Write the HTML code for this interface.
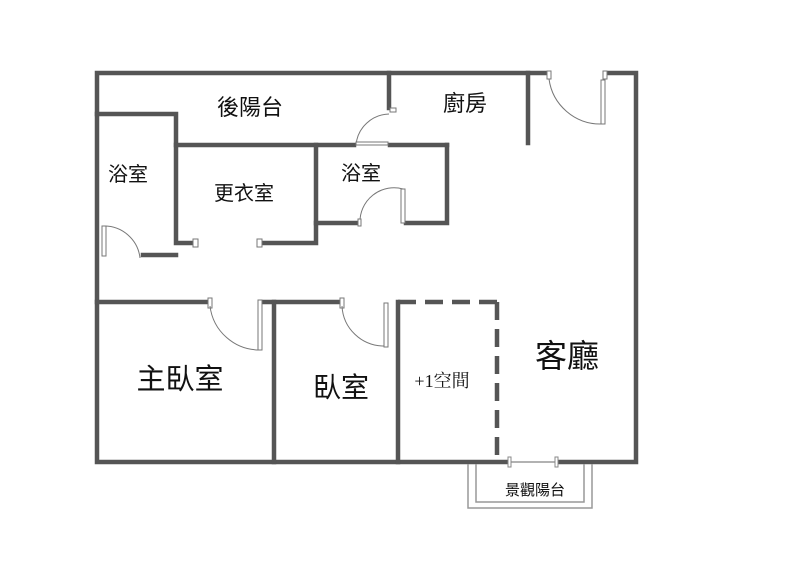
<!DOCTYPE html>
<html><head><meta charset="utf-8"><style>
body{margin:0;background:#fff;width:800px;height:577px;overflow:hidden}
text{font-family:"Liberation Sans","Noto Sans CJK TC",sans-serif;fill:#111;text-anchor:middle}
</style></head><body>
<svg width="800" height="577" viewBox="0 0 800 577" xmlns="http://www.w3.org/2000/svg">
<g stroke="#555" stroke-width="4.5" fill="none" stroke-linecap="square">
<polyline points="546,73 97,73 97,462 636,462 636,73 609,73"/>
<polyline points="97,114 176,114 176,243 193,243"/>
<line x1="176" y1="145" x2="354" y2="145"/>
<line x1="390" y1="145" x2="447" y2="145"/>
<line x1="389" y1="73" x2="389" y2="108"/>
<polyline points="143,255 176,255"/>
<polyline points="262,243 316,243 316,145"/>
<polyline points="316,223 358,223"/>
<polyline points="406,223 447,223 447,145"/>
<line x1="528" y1="73" x2="528" y2="143"/>
<line x1="97" y1="302" x2="208" y2="302"/>
<line x1="264" y1="302" x2="340" y2="302"/>
<line x1="274" y1="302" x2="274" y2="462"/>
<line x1="398" y1="302" x2="398" y2="462"/>
</g>
<g stroke="#555" stroke-width="4.5" fill="none" stroke-dasharray="18,9">
<line x1="398" y1="302" x2="497" y2="302"/>
<line x1="497" y1="302" x2="497" y2="462"/>
</g>
<rect x="508" y="455" width="50" height="14" fill="#fff"/>
<line x1="510" y1="462" x2="557" y2="462" stroke="#999" stroke-width="1.5"/>
<rect x="508" y="457" width="3" height="10" fill="#fff" stroke="#888"/>
<rect x="555" y="457" width="3" height="10" fill="#fff" stroke="#888"/>
<g stroke="#999" stroke-width="1.5" fill="none">
<polyline points="468,464 468,508 592,508 592,464"/>
<polyline points="476,464 476,502 584,502 584,464"/>
</g>
<g stroke="#777" stroke-width="1" fill="#fff">
<rect x="547" y="71" width="4" height="8"/><rect x="603" y="71" width="4" height="8"/>
<rect x="601" y="80" width="4" height="44"/>
<path d="M549,79 A52,52 0 0 0 601,124" fill="none"/>
<rect x="390" y="108" width="6" height="4"/>
<path d="M389,114 A34,34 0 0 0 356,145" fill="none"/>
<rect x="356" y="142" width="32" height="3"/>
<rect x="102" y="226" width="4" height="30"/>
<path d="M104,226 A36,36 0 0 1 140,258" fill="none"/>
<rect x="193" y="239" width="5" height="8"/><rect x="257" y="239" width="5" height="8"/>
<rect x="401" y="189" width="4" height="34"/>
<path d="M403,189 A34,34 0 0 0 360,223" fill="none"/>
<rect x="358" y="219" width="3" height="7"/>
<rect x="208" y="298" width="4" height="10"/>
<path d="M210,306 A50,50 0 0 0 260,350" fill="none"/>
<rect x="258" y="300" width="4" height="50"/>
<rect x="340" y="298" width="4" height="10"/>
<path d="M342,306 A42,42 0 0 0 384,346" fill="none"/>
<rect x="384" y="303" width="4" height="44"/>
</g>
<text x="250" y="115" font-size="22">後陽台</text>
<text x="465" y="111" font-size="22">廚房</text>
<text x="128" y="181" font-size="20">浴室</text>
<text x="244" y="200" font-size="20">更衣室</text>
<text x="361" y="180" font-size="20">浴室</text>
<text x="180" y="389" font-size="29">主臥室</text>
<text x="341" y="397" font-size="28">臥室</text>
<text x="442" y="387" font-size="18" style="font-family:'Liberation Serif','Noto Serif CJK SC',serif">+1空間</text>
<text x="567" y="367" font-size="32">客廳</text>
<text x="535" y="495" font-size="15">景觀陽台</text>
</svg>
</body></html>
